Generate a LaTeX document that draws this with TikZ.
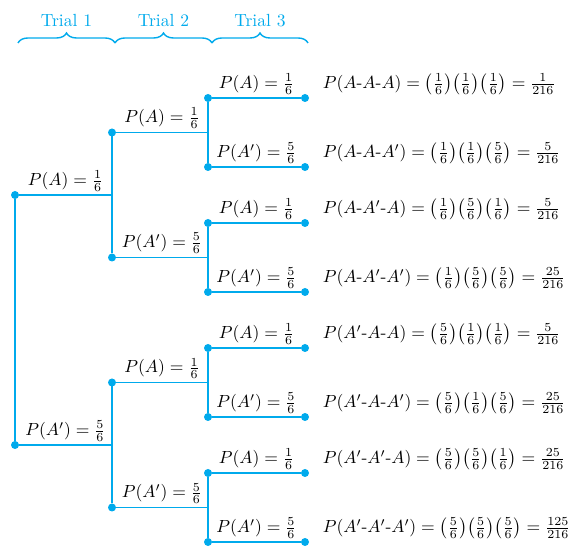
\documentclass[tikz,border=0pt]{standalone}
\usepackage{amsmath}
\usetikzlibrary{positioning,decorations.pathreplacing}
\definecolor{trialblue}{RGB}{0,170,236}
\newcommand{\pfr}[1]{{\left(\frac{#1}{6}\right)}}
\newcommand{\hy}{\text{-}}

\begin{document}
\begin{tikzpicture}[line width=1pt,
                    dot node/.style={circle,fill=trialblue,inner sep=0pt,outer sep=0pt,minimum size=0.16cm},
                    branch/.style={draw=trialblue},
                    prob/.style={above,inner sep=1.5pt,text=black},
                    outcome/.style={anchor=west,inner sep=0pt},
                    trial brace/.style={draw=trialblue,line width=0.8pt,decorate,decoration={brace,amplitude=0.2cm}}
                   ]
  \useasboundingbox (0,0) rectangle (11.44,10.92);

  % trial headings
  \coordinate (t0) at (0.36,10.06);
  \coordinate (t1) at (2.30,10.06);
  \coordinate (t2) at (4.24,10.06);
  \coordinate (t3) at (6.16,10.06);
  \draw[trial brace] (t0) -- (t1) node[midway,above=0.2cm,text=trialblue] (h1) {Trial 1};
  \draw[trial brace] (t1) -- (t2) node[midway,above=0.2cm,text=trialblue] (h2) {Trial 2};
  \draw[trial brace] (t2) -- (t3) node[midway,above=0.2cm,text=trialblue] (h3) {Trial 3};

  % trial 1
  \node[dot node] (A) at (0.30,7.02) {};
  \node[dot node] (N) at (0.30,2.02) {};
  % trial 2
  \node[dot node] (AA) at (2.24,8.27) {};
  \node[dot node] (AN) at (2.24,5.77) {};
  \node[dot node] (NA) at (2.24,3.27) {};
  \node[dot node] (NN) at (2.24,0.77) {};
  % trial 3
  \node[dot node] (AAA) at (4.16,8.96) {};
  \node[dot node] (AAN) at (4.16,7.58) {};
  \node[dot node] (ANA) at (4.16,6.46) {};
  \node[dot node] (ANN) at (4.16,5.08) {};
  \node[dot node] (NAA) at (4.16,3.96) {};
  \node[dot node] (NAN) at (4.16,2.58) {};
  \node[dot node] (NNA) at (4.16,1.46) {};
  \node[dot node] (NNN) at (4.16,0.08) {};
  % ends
  \node[dot node] (AAAe) at (6.10,8.96) {};
  \node[dot node] (AANe) at (6.10,7.58) {};
  \node[dot node] (ANAe) at (6.10,6.46) {};
  \node[dot node] (ANNe) at (6.10,5.08) {};
  \node[dot node] (NAAe) at (6.10,3.96) {};
  \node[dot node] (NANe) at (6.10,2.58) {};
  \node[dot node] (NNAe) at (6.10,1.46) {};
  \node[dot node] (NNNe) at (6.10,0.08) {};
  \coordinate (fx) at (6.44,0);

  \draw[branch] (A) -- (N);
  \draw[branch] (A) -| (AA) node[prob,pos=0.25] (lA) {$P(A) = \frac{1}{6}$};
  \draw[branch] (A) -| (AN);
  \draw[branch] (N) -| (NA) node[prob,pos=0.25] (lN) {$P(A') = \frac{5}{6}$};
  \draw[branch] (N) -| (NN);

  \draw[branch] (AA) -| (AAA) node[prob,pos=0.25] (lAA) {$P(A) = \frac{1}{6}$};
  \draw[branch] (AA) -| (AAN);
  \draw[branch] (AN) -| (ANA) node[prob,pos=0.25] (lAN) {$P(A') = \frac{5}{6}$};
  \draw[branch] (AN) -| (ANN);
  \draw[branch] (NA) -| (NAA) node[prob,pos=0.25] (lNA) {$P(A) = \frac{1}{6}$};
  \draw[branch] (NA) -| (NAN);
  \draw[branch] (NN) -| (NNA) node[prob,pos=0.25] (lNN) {$P(A') = \frac{5}{6}$};
  \draw[branch] (NN) -| (NNN);

  \draw[branch] (AAA) -- (AAAe) node[prob,midway] (lAAA) {$P(A) = \frac{1}{6}$};
  \draw[branch] (AAN) -- (AANe) node[prob,midway] (lAAN) {$P(A') = \frac{5}{6}$};
  \draw[branch] (ANA) -- (ANAe) node[prob,midway] (lANA) {$P(A) = \frac{1}{6}$};
  \draw[branch] (ANN) -- (ANNe) node[prob,midway] (lANN) {$P(A') = \frac{5}{6}$};
  \draw[branch] (NAA) -- (NAAe) node[prob,midway] (lNAA) {$P(A) = \frac{1}{6}$};
  \draw[branch] (NAN) -- (NANe) node[prob,midway] (lNAN) {$P(A') = \frac{5}{6}$};
  \draw[branch] (NNA) -- (NNAe) node[prob,midway] (lNNA) {$P(A) = \frac{1}{6}$};
  \draw[branch] (NNN) -- (NNNe) node[prob,midway] (lNNN) {$P(A') = \frac{5}{6}$};

  % outcomes
  \node[outcome] (fAAA) at (lAAA -| fx) {$P(A\hy A\hy A) = \pfr{1}\pfr{1}\pfr{1} = \frac{1}{216}$};
  \node[outcome] (fAAN) at (lAAN -| fx) {$P(A\hy A\hy A') = \pfr{1}\pfr{1}\pfr{5} = \frac{5}{216}$};
  \node[outcome] (fANA) at (lANA -| fx) {$P(A\hy A'\hy A) = \pfr{1}\pfr{5}\pfr{1} = \frac{5}{216}$};
  \node[outcome] (fANN) at (lANN -| fx) {$P(A\hy A'\hy A') = \pfr{1}\pfr{5}\pfr{5} = \frac{25}{216}$};
  \node[outcome] (fNAA) at (lNAA -| fx) {$P(A'\hy A\hy A) = \pfr{5}\pfr{1}\pfr{1} = \frac{5}{216}$};
  \node[outcome] (fNAN) at (lNAN -| fx) {$P(A'\hy A\hy A') = \pfr{5}\pfr{1}\pfr{5} = \frac{25}{216}$};
  \node[outcome] (fNNA) at (lNNA -| fx) {$P(A'\hy A'\hy A) = \pfr{5}\pfr{5}\pfr{1} = \frac{25}{216}$};
  \node[outcome] (fNNN) at (lNNN -| fx) {$P(A'\hy A'\hy A') = \pfr{5}\pfr{5}\pfr{5} = \frac{125}{216}$};
\end{tikzpicture}
\end{document}
